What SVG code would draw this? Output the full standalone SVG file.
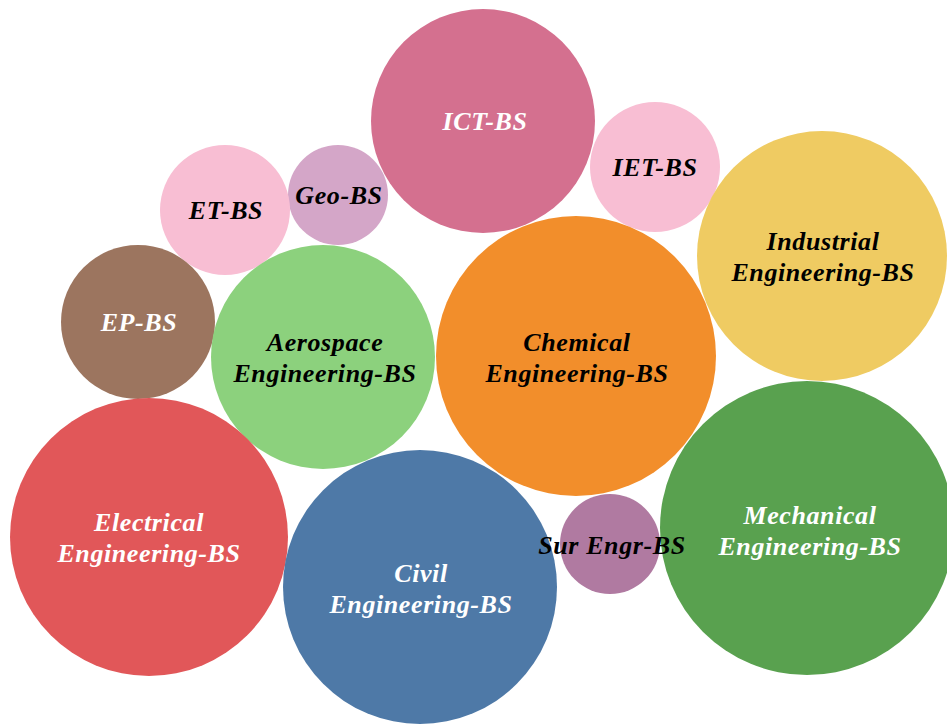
<svg xmlns="http://www.w3.org/2000/svg" width="947" height="725" viewBox="0 0 947 725">
<style>
text{font-family:"Liberation Serif","DejaVu Serif",serif;font-weight:bold;font-style:italic;font-size:26px;letter-spacing:0.6px;text-anchor:middle}
.w{fill:#ffffff}.b{fill:#000000}
</style>
<rect width="947" height="725" fill="#ffffff"/>
<g id="ict"><circle cx="483" cy="121" r="112" fill="#D4708F"/><text class="w" x="485" y="130">ICT-BS</text></g>
<g id="iet"><circle cx="655" cy="167" r="65" fill="#F8BED3"/><text class="b" x="655" y="176">IET-BS</text></g>
<g id="geo"><circle cx="338" cy="195" r="50" fill="#D4A6C8"/><text class="b" x="339" y="204">Geo-BS</text></g>
<g id="et"><circle cx="225" cy="210" r="65" fill="#F8BED3"/><text class="b" x="226" y="219">ET-BS</text></g>
<g id="industrial"><circle cx="822" cy="256" r="125" fill="#EFCB62"/><text class="b" x="823" y="250">Industrial</text><text class="b" x="823" y="281">Engineering-BS</text></g>
<g id="ep"><circle cx="138" cy="322" r="77" fill="#9C755F"/><text class="w" x="139" y="331">EP-BS</text></g>
<g id="aerospace"><circle cx="323" cy="357" r="112" fill="#8CD17D"/><text class="b" x="325" y="351">Aerospace</text><text class="b" x="325" y="382">Engineering-BS</text></g>
<g id="chemical"><circle cx="576" cy="356" r="140" fill="#F28E2B"/><text class="b" x="577" y="351">Chemical</text><text class="b" x="577" y="382">Engineering-BS</text></g>
<g id="mechanical"><circle cx="807" cy="528" r="147" fill="#59A14F"/><text class="w" x="810" y="524">Mechanical</text><text class="w" x="810" y="555">Engineering-BS</text></g>
<g id="electrical"><circle cx="149" cy="537" r="139" fill="#E15759"/><text class="w" x="149" y="531">Electrical</text><text class="w" x="149" y="562">Engineering-BS</text></g>
<g id="civil"><circle cx="420" cy="587" r="137" fill="#4E79A7"/><text class="w" x="421" y="582">Civil</text><text class="w" x="421" y="613">Engineering-BS</text></g>
<g id="sur"><circle cx="610" cy="544" r="50" fill="#B07AA1"/><text class="b" x="612" y="554">Sur Engr-BS</text></g>
<g id="connectors"></g>
</svg>
